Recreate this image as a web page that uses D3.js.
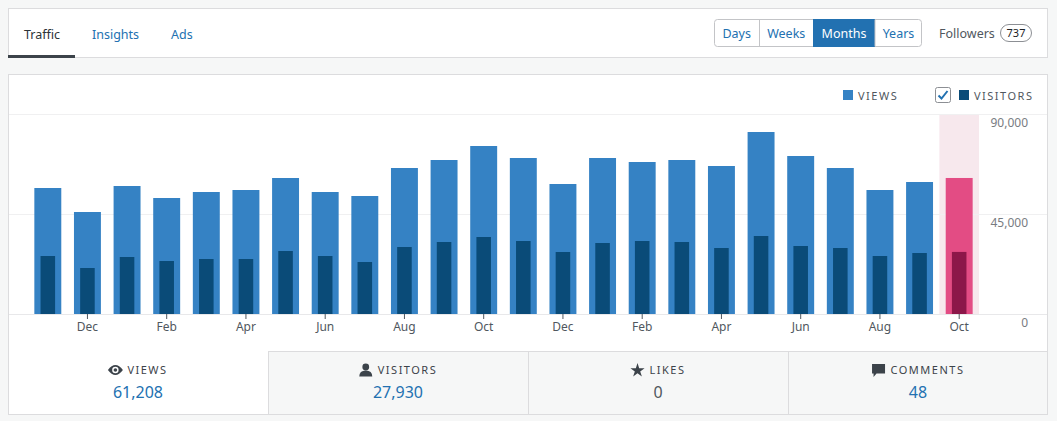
<!DOCTYPE html>
<html>
<head>
<meta charset="utf-8">
<script src="https://cdn.jsdelivr.net/npm/d3@7"></script>
<style>
  html, body { margin: 0; padding: 0; background: #f6f7f7; }
  svg { display: block; font-family: 'Noto Sans', 'Open Sans', sans-serif; }
  .caps { letter-spacing: 1.5px; text-transform: uppercase; }
</style>
</head>
<body>
<svg id="chart" width="1057" height="421"></svg>
<script>

const months = ['Nov', 'Dec', 'Jan', 'Feb', 'Mar', 'Apr', 'May', 'Jun', 'Jul', 'Aug', 'Sep', 'Oct',
                'Nov', 'Dec', 'Jan', 'Feb', 'Mar', 'Apr', 'May', 'Jun', 'Jul', 'Aug', 'Sep', 'Oct']
const views = [56700, 45900, 57600, 52200, 54900, 55800, 61200, 54900, 53100, 65700, 69300, 75600,
               70200, 58500, 70200, 68400, 69300, 66600, 81900, 71100, 65700, 55800, 59400, 61208]
const visitors = [26100, 20700, 25650, 23850, 24750, 24750, 28350, 26100, 23400, 30150, 32400, 34650,
                  32850, 27900, 31950, 32850, 32400, 29700, 35100, 30600, 29700, 26100, 27450, 27930]
const yTicks = [0, 45000, 90000]

const tabs = ['Traffic', 'Insights', 'Ads']
const periods = ['Days', 'Weeks', 'Months', 'Years']
const followers = 737
const totals = [
  { label: 'Views', value: 61208, icon: 'eye' },
  { label: 'Visitors', value: 27930, icon: 'person' },
  { label: 'Likes', value: 0, icon: 'star' },
  { label: 'Comments', value: 48, icon: 'comment' }
]

const blue = '#2271b1'
const border = '#dcdcde'
const svg = d3.select('#chart')

// top navigation panel
const nav = svg.append('g')
nav.append('rect')
  .attr('x', 8.5).attr('y', 8.5)
  .attr('width', 1039).attr('height', 49)
  .attr('fill', '#fff').attr('stroke', border)

const tabX = [24, 92, 171]
nav.selectAll('.tab')
  .data(tabs)
  .enter()
  .append('text')
  .attr('x', (d, i) => tabX[i])
  .attr('y', 38.5)
  .attr('font-size', 12.5)
  .attr('fill', (d, i) => i === 0 ? '#2c3338' : blue)
  .text(d => d)

nav.append('rect')
  .attr('x', 8).attr('y', 55)
  .attr('width', 67).attr('height', 3)
  .attr('fill', '#3c434a')

// period buttons
const btnEdges = [714, 759.5, 813, 875, 922]
const btns = nav.append('g')
btns.append('rect')
  .attr('x', 714.5).attr('y', 19.5)
  .attr('width', 207).attr('height', 27)
  .attr('rx', 3)
  .attr('fill', '#fff').attr('stroke', '#c3c4c7')
btns.append('rect')
  .attr('x', btnEdges[2]).attr('y', 19)
  .attr('width', btnEdges[3] - btnEdges[2]).attr('height', 28)
  .attr('fill', blue)
btns.selectAll('.sep')
  .data([1, 3])
  .enter()
  .append('line')
  .attr('x1', i => btnEdges[i]).attr('x2', i => btnEdges[i])
  .attr('y1', 19.5).attr('y2', 46.5)
  .attr('stroke', '#c3c4c7')
btns.selectAll('.btn')
  .data(periods)
  .enter()
  .append('text')
  .attr('x', (d, i) => (btnEdges[i] + btnEdges[i + 1]) / 2)
  .attr('y', 38)
  .attr('text-anchor', 'middle')
  .attr('font-size', 12.5)
  .attr('fill', d => d === 'Months' ? '#fff' : blue)
  .text(d => d)

nav.append('text')
  .attr('x', 939).attr('y', 38)
  .attr('font-size', 12.5)
  .attr('fill', '#50575e')
  .text('Followers')
nav.append('rect')
  .attr('x', 1000.5).attr('y', 24.5)
  .attr('width', 31).attr('height', 17)
  .attr('rx', 8.5)
  .attr('fill', '#fff').attr('stroke', '#8c8f94')
nav.append('text')
  .attr('x', 1016).attr('y', 37)
  .attr('text-anchor', 'middle')
  .attr('font-size', 11)
  .attr('fill', '#1d2327')
  .text(followers)

// chart panel
const panel = svg.append('g')
panel.append('rect')
  .attr('x', 8.5).attr('y', 74.5)
  .attr('width', 1039).attr('height', 340)
  .attr('fill', '#fff').attr('stroke', border)

const x = d3.scaleBand()
  .domain(d3.range(months.length))
  .range([28, 979])
  .padding(0)

const y = d3.scaleLinear()
  .domain([0, 90000])
  .range([314, 114])

const barW = x.bandwidth() * 0.68
const visW = barW * 0.54
const last = months.length - 1

// highlight of current month
panel.append('rect')
  .attr('x', x(last))
  .attr('y', y(90000))
  .attr('width', x.bandwidth())
  .attr('height', y(0) - y(90000))
  .attr('fill', '#f7e8ed')

panel.selectAll('.grid')
  .data(yTicks)
  .enter()
  .append('line')
  .attr('x1', 9).attr('x2', 1047)
  .attr('y1', d => y(d) + 0.5).attr('y2', d => y(d) + 0.5)
  .attr('stroke', d => d === 0 ? '#e8e8ea' : '#f0f0f1')

panel.selectAll('.y-label')
  .data(yTicks)
  .enter()
  .append('text')
  .attr('x', 1028)
  .attr('y', d => y(d) + 12.5)
  .attr('text-anchor', 'end')
  .attr('font-size', 12)
  .attr('fill', '#787c82')
  .text(d => d3.format(',')(d))

panel.selectAll('.views')
  .data(views)
  .enter()
  .append('rect')
  .attr('x', (d, i) => x(i) + (x.bandwidth() - barW) / 2)
  .attr('y', d => y(d))
  .attr('width', barW)
  .attr('height', d => y(0) - y(d))
  .attr('fill', (d, i) => i === last ? '#e34c84' : '#3582c4')

panel.selectAll('.visitors')
  .data(visitors)
  .enter()
  .append('rect')
  .attr('x', (d, i) => x(i) + (x.bandwidth() - visW) / 2)
  .attr('y', d => y(d))
  .attr('width', visW)
  .attr('height', d => y(0) - y(d))
  .attr('fill', (d, i) => i === last ? '#8c1749' : '#0a4b78')

const xAxis = panel.append('g')
  .attr('transform', 'translate(0,' + y(0) + ')')
  .call(d3.axisBottom(x)
    .tickValues(d3.range(1, months.length, 2))
    .tickFormat(i => months[i])
    .tickSize(5)
    .tickPadding(3))
xAxis.select('.domain').remove()
xAxis.selectAll('.tick line').attr('stroke', '#50575e')
xAxis.selectAll('.tick text')
  .attr('font-family', 'Noto Sans, sans-serif')
  .attr('font-size', 12)
  .attr('fill', '#50575e')

// legend
const legend = panel.append('g').attr('font-size', 11).attr('fill', '#50575e')
legend.append('rect')
  .attr('x', 843).attr('y', 90).attr('width', 10).attr('height', 10)
  .attr('fill', '#3582c4')
legend.append('text')
  .attr('class', 'caps')
  .attr('x', 858).attr('y', 99.5)
  .text('Views')
legend.append('rect')
  .attr('x', 935.5).attr('y', 87.5).attr('width', 15).attr('height', 15)
  .attr('rx', 2)
  .attr('fill', '#fff').attr('stroke', '#8c8f94')
legend.append('path')
  .attr('d', 'M938.5 95.5 L941.5 98.5 L947.5 91')
  .attr('fill', 'none').attr('stroke', blue).attr('stroke-width', 2)
legend.append('rect')
  .attr('x', 959).attr('y', 90).attr('width', 10).attr('height', 10)
  .attr('fill', '#0a4b78')
legend.append('text')
  .attr('class', 'caps')
  .attr('x', 974).attr('y', 99.5)
  .text('Visitors')

// totals row
const cellW = 260
const cells = panel.selectAll('.cell')
  .data(totals)
  .enter()
  .append('g')
  .attr('transform', (d, i) => 'translate(' + (8 + i * cellW) + ',351)')

cells.filter((d, i) => i > 0)
  .append('rect')
  .attr('x', 0.5).attr('y', 0.5)
  .attr('width', (d, i) => i === 2 ? cellW - 1 : cellW)
  .attr('height', 63)
  .attr('fill', '#f6f7f7')
  .attr('stroke', border)

const icons = {
  eye: g => {
    g.append('path')
      .attr('d', 'M-7.5 0 Q0 -10 7.5 0 Q0 10 -7.5 0 Z')
      .attr('fill', '#3c434a')
    g.append('circle').attr('r', 3.2).attr('fill', '#fff')
    g.append('circle').attr('r', 1.8).attr('fill', '#3c434a')
  },
  person: g => {
    g.append('circle').attr('cy', -3).attr('r', 3.4).attr('fill', '#3c434a')
    g.append('path')
      .attr('d', 'M-6.5 6.5 Q-6.5 0.5 0 0.5 Q6.5 0.5 6.5 6.5 Z')
      .attr('fill', '#3c434a')
  },
  star: g => {
    g.append('path')
      .attr('d', d3.symbol(d3.symbolStar, 62)())
      .attr('transform', 'translate(0,0.5)')
      .attr('fill', '#3c434a')
  },
  comment: g => {
    g.append('path')
      .attr('d', 'M-6.5 -6 H6.5 V3.5 H-2 L-5 7 V3.5 H-6.5 Z')
      .attr('fill', '#3c434a')
  }
}

cells.each(function(d) {
  const g = d3.select(this)
  const label = g.append('text')
    .attr('class', 'caps')
    .attr('y', 23)
    .attr('font-size', 11)
    .attr('fill', '#3c434a')
    .text(d.label)
  const w = label.node().getComputedTextLength()
  const start = cellW / 2 - (w + 19) / 2
  label.attr('x', start + 19)
  const ic = g.append('g').attr('transform', 'translate(' + (start + 7) + ',19)')
  icons[d.icon](ic)

  g.append('text')
    .attr('x', cellW / 2)
    .attr('y', 47)
    .attr('text-anchor', 'middle')
    .attr('font-size', 16)
    .attr('fill', d.value === 0 ? '#50575e' : blue)
    .text(d3.format(',')(d.value))
})

</script>
</body>
</html>
